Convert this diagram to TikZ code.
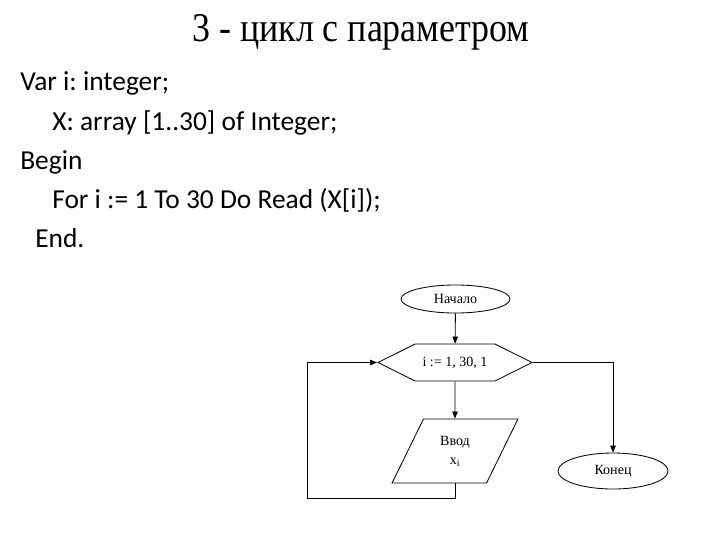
\documentclass[tikz,border=0pt]{standalone}
\usepackage{fontspec}
\setmainfont{Liberation Serif}
\newfontfamily\titlefont{Liberation Serif}[FakeStretch=0.88]
\newfontfamily\codefont{Carlito}
\usetikzlibrary{arrows.meta, positioning, shapes.geometric, shapes.symbols}
\frenchspacing

\begin{document}
\begin{tikzpicture}[
    x=0.025cm, y=-0.025cm,
    termnl/.style={ellipse, draw, line width=0.6pt,
                   inner sep=0pt, font=\fontsize{10}{11}\selectfont},
    loopbox/.style={signal, signal to=east and west,
                    signal pointer angle=53, draw,
                    line width=0.6pt, inner sep=0pt,
                    minimum width=3.85cm, minimum height=0.925cm,
                    font=\fontsize{10}{11}\selectfont},
    iobox/.style={trapezium, trapezium stretches=true,
                  trapezium left angle=64, trapezium right angle=116,
                  draw, line width=0.6pt, inner sep=0pt,
                  minimum width=3.15cm, minimum height=1.6cm,
                  align=center, font=\fontsize{10}{13.5}\selectfont},
    codeln/.style={anchor=base west, inner sep=0pt,
                   font=\codefont\fontsize{19.5}{22}\selectfont},
    flow/.style={-{Triangle[length=5pt, width=4pt]},
                 line width=0.6pt},
]
\useasboundingbox (0,0) rectangle (720,540);

% -- Title and program text ------------------
\node[anchor=base, inner sep=0pt,
      font=\titlefont\fontsize{29}{32}\selectfont]
    (title) at (361,41.5) {3 - цикл с параметром};
\node[codeln] (ln1) at (20,90.5) {Var i: integer;};
\node[codeln] (ln2) at (52,130)  {X: array [1..30] of Integer;};
\node[codeln] (ln3) at (20,169)  {Begin};
\node[codeln] (ln4) at (52,208)  {For i := 1 To 30 Do Read (X[i]);};
\node[codeln] (ln5) at (35,247)  {End.};

% -- Flowchart nodes -------------------------
\node[termnl, minimum width=2.725cm, minimum height=0.7cm]
    (start) at (455.5,299) {Начало};
\node[loopbox] (loop) at (455,362.5) {i := 1, 30, 1};
\node[iobox] (input) at (455,451) {Ввод\\x\textsubscript{i}};
\node[termnl, minimum width=2.75cm, minimum height=0.9cm]
    (stop) at (613,471) {Конец};
\coordinate (back) at (307,498);

% -- Connectors ------------------------------
\draw[flow] (start) -- (loop);
\draw[flow] (loop) -- (input);
\draw[flow] (input.south) |- (back) |- (loop.west);
\draw[flow] (loop.east) -| (stop.north);

\end{tikzpicture}
\end{document}
